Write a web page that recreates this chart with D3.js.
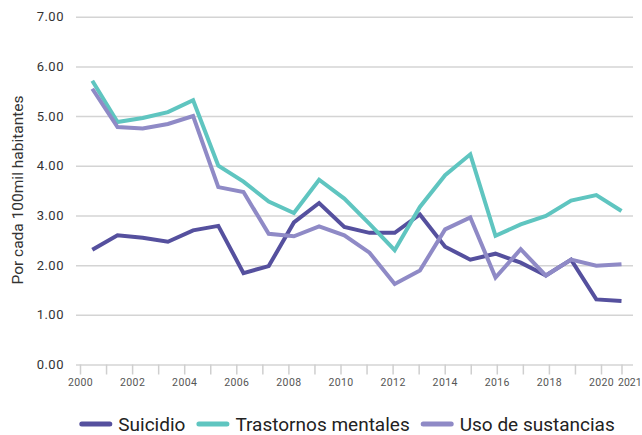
<!DOCTYPE html>
<head>
  <meta charset="utf-8">
  <title>Tasas por cada 100mil habitantes</title>
  <style>
    body { margin: 0; background: #fff; }
    text { font-family: Roboto, "Noto Sans", sans-serif; }
  </style>
</head>
<body>
  <div id="chart"></div>
  <script src="https://d3js.org/d3.v7.min.js"></script>
  <script>
    // data, one value per year 2000-2021
    var years = [2000, 2001, 2002, 2003, 2004, 2005, 2006, 2007, 2008, 2009, 2010,
                 2011, 2012, 2013, 2014, 2015, 2016, 2017, 2018, 2019, 2020, 2021];
    var suicidio = [2.31, 2.60, 2.55, 2.47, 2.70, 2.79, 1.84, 1.98, 2.86, 3.25, 2.77,
                    2.65, 2.65, 3.02, 2.37, 2.11, 2.23, 2.05, 1.79, 2.11, 1.31, 1.28];
    var trastornos = [5.71, 4.88, 4.96, 5.08, 5.32, 4.00, 3.68, 3.28, 3.05, 3.72, 3.34,
                      2.83, 2.30, 3.17, 3.81, 4.23, 2.59, 2.82, 2.99, 3.30, 3.41, 3.09];
    var sustancias = [5.55, 4.78, 4.75, 4.84, 5.00, 3.57, 3.47, 2.63, 2.58, 2.78, 2.60,
                      2.25, 1.62, 1.89, 2.72, 2.96, 1.75, 2.32, 1.79, 2.11, 1.99, 2.02];

    var seriesNames = ["Suicidio", "Trastornos mentales", "Uso de sustancias"];
    var seriesColors = ["#55509e", "#5fc5c0", "#8f8ac6"];
    var yTicks = [0, 1, 2, 3, 4, 5, 6, 7];
    var tickYears = d3.range(2000, 2021);   // yearly ticks, labelled every 2 years

    var width = 642,
        height = 435;

    var svg = d3.select("#chart")
      .append("svg")
      .attr("width", width)
      .attr("height", height);

    // data points and axis ticks don't share spacing in the original
    var x = d3.scalePoint().domain(years).range([92.3, 621.5]);
    var xAxisScale = d3.scaleLinear().domain([2000, 2020]).range([80, 601]);
    var y = d3.scaleLinear().domain([0, 7]).range([364.5, 16.7]);

    // grid lines + y labels
    var yAxis = svg.append("g")
      .attr("transform", "translate(633,0)")
      .call(d3.axisLeft(y)
        .tickValues(yTicks)
        .tickSize(633 - 76)
        .tickPadding(12)
        .tickFormat(d3.format(".2f")));

    yAxis.select(".domain").remove();
    yAxis.selectAll("line")
      .attr("stroke", "#d4d4d4")
      .attr("stroke-width", 1.5);
    yAxis.selectAll("text")
      .attr("fill", "#333")
      .style("font-size", "13px")
      .style("letter-spacing", "0.5px");

    // x ticks
    var xAxis = svg.append("g")
      .attr("transform", "translate(0," + y(0) + ")")
      .call(d3.axisBottom(xAxisScale)
        .tickValues(tickYears)
        .tickSize(10)
        .tickSizeOuter(0)
        .tickPadding(4)
        .tickFormat(function(d) { return d % 2 == 0 ? d : ""; }));

    // the last tick sits on the last data point
    var xEnd = svg.append("g")
      .attr("transform", "translate(0," + y(0) + ")")
      .call(d3.axisBottom(x)
        .tickValues([2021])
        .tickSize(10)
        .tickSizeOuter(0)
        .tickPadding(4));

    [xAxis, xEnd].forEach(function(g) {
      g.select(".domain").remove();
      g.selectAll("line")
        .attr("stroke", "#cfcfcf")
        .attr("stroke-width", 1.5);
      g.selectAll("text")
        .attr("fill", "#555")
        .style("font-size", "10.5px")
        .style("letter-spacing", "0.4px");
    });
    // 2021 label hangs to the right of its tick
    xEnd.selectAll("text")
      .attr("text-anchor", "start")
      .attr("x", -4)
      .style("letter-spacing", "0px");

    // y title
    svg.append("text")
      .attr("transform", "translate(23,190) rotate(-90)")
      .attr("text-anchor", "middle")
      .attr("fill", "#333")
      .style("font-size", "15.5px")
      .text("Por cada 100mil habitantes");

    // lines
    var allSeries = [suicidio, trastornos, sustancias];
    var line = d3.line()
      .x(function(d, i) { return x(years[i]); })
      .y(function(d) { return y(d); });

    svg.append("g")
      .selectAll("path")
      .data(allSeries)
      .enter()
      .append("path")
        .attr("d", line)
        .attr("fill", "none")
        .attr("stroke", function(d, i) { return seriesColors[i]; })
        .attr("stroke-width", 4)
        .attr("stroke-linejoin", "miter")
        .attr("stroke-linecap", "butt");

    // legend, centred under the plot
    var legend = svg.append("g");
    var swatch = 33, gap = 6, itemGap = 11, cursor = 0;

    seriesNames.forEach(function(name, i) {
      var item = legend.append("g").attr("transform", "translate(" + cursor + ",0)");
      item.append("line")
        .attr("x1", 2.5).attr("x2", swatch - 2.5)
        .attr("y1", 0).attr("y2", 0)
        .attr("stroke", seriesColors[i])
        .attr("stroke-width", 5)
        .attr("stroke-linecap", "round");
      var t = item.append("text")
        .attr("x", swatch + gap)
        .attr("y", 7)
        .attr("fill", "#222")
        .style("font-size", "19px")
        .text(name);
      cursor += swatch + gap + t.node().getComputedTextLength() + itemGap;
    });

    var legendW = cursor - itemGap;
    legend.attr("transform", "translate(" + (347 - legendW / 2) + ",424)");
  </script>
</body>
